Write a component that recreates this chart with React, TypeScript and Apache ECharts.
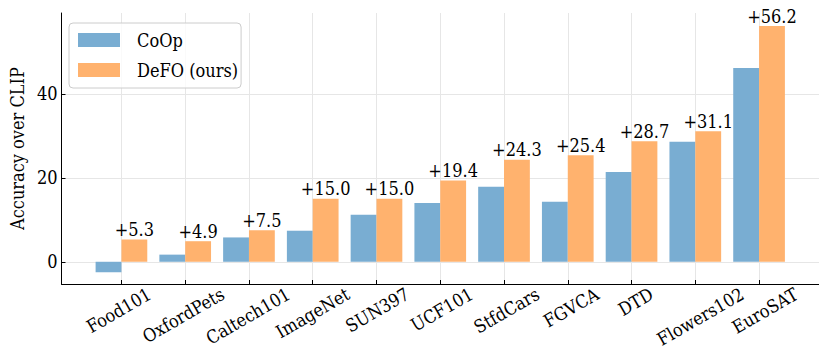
import React, { useEffect, useRef } from "react";
import * as echarts from "echarts";

const categories = ["Food101", "OxfordPets", "Caltech101", "ImageNet", "SUN397", "UCF101", "StfdCars", "FGVCA", "DTD", "Flowers102", "EuroSAT"];
const coop = [-2.5, 1.7, 5.8, 7.4, 11.2, 14.0, 17.9, 14.3, 21.4, 28.6, 46.2];
const defo = [5.3, 4.9, 7.5, 15.0, 15.0, 19.4, 24.3, 25.4, 28.7, 31.1, 56.2];
const yTicks = [0, 20, 40];
const seriesNames = ["CoOp", "DeFO (ours)"];

const FONT = "DejaVu Serif Condensed";
const FS = 18;
const BLUE = "#79add2";
const ORANGE = "#ffb26e";
const Y_MIN = -5.3;
const Y_MAX = 59.3;
const X_MIN = -0.94;
const X_MAX = 10.94;

export default function App() {
  const ref = useRef<HTMLDivElement>(null);
  useEffect(() => {
    if (!ref.current) return;
    const chart = echarts.init(ref.current, undefined, { renderer: "svg" });

    const canvas = document.createElement("canvas");
    const ctx = canvas.getContext("2d")!;
    ctx.font = `${FS}px "${FONT}"`;
    const rich: Record<string, any> = {};
    categories.forEach((c, i) => {
      const L = ctx.measureText(c).width;
      rich["c" + i] = {
        fontSize: FS,
        fontFamily: FONT,
        color: "#000",
        lineHeight: 20,
        padding: [0.433 * L, 0.25 * L, 0, 0],
      };
    });
    const idx = categories.map((_, i) => i);

    const gLeft = 58;
    const gWidth = 819 + 7 - gLeft;
    const band = gWidth / (X_MAX - X_MIN);
    const g2Left = gLeft + (-0.5 - X_MIN) * band;
    const g2Width = band * categories.length;

    chart.setOption({
      animation: false,
      textStyle: { fontFamily: FONT },
      grid: [
        { left: gLeft, width: gWidth, top: 13, bottom: 66, containLabel: false },
        { left: g2Left, width: g2Width, top: 13, bottom: 66, containLabel: false },
      ],
      legend: {
        orient: "vertical",
        left: 69,
        top: 23,
        padding: [7, 3, 8, 9],
        itemGap: 10,
        itemWidth: 42,
        itemHeight: 14,
        icon: "rect",
        borderColor: "#cccccc",
        borderWidth: 1,
        borderRadius: 4,
        backgroundColor: "rgba(255,255,255,0.8)",
        textStyle: { fontSize: FS, fontFamily: FONT, color: "#000", padding: [0, 0, 0, 12], lineHeight: 20 },
        data: seriesNames,
      },
      xAxis: [
        {
          type: "value",
          gridIndex: 0,
          min: X_MIN,
          max: X_MAX,
          axisLine: { show: true, onZero: false, lineStyle: { color: "#000", width: 1 } },
          axisTick: { show: true, inside: true, length: 4, customValues: idx, lineStyle: { color: "#000" } },
          splitLine: { show: true, lineStyle: { color: "#e6e6e6", width: 1 } },
          axisLabel: { show: false, customValues: idx },
        },
        {
          type: "category",
          gridIndex: 1,
          data: categories,
          boundaryGap: true,
          axisLine: { show: false },
          axisTick: { show: false },
          splitLine: { show: false },
          axisLabel: {
            interval: 0,
            rotate: 30,
            margin: 13,
            align: "center",
            verticalAlign: "middle",
            formatter: (v: string) => `{c${categories.indexOf(v)}|${v}}`,
            rich,
          },
        },
      ],
      yAxis: [
        {
          type: "value",
          gridIndex: 0,
          min: Y_MIN,
          max: Y_MAX,
          name: "Accuracy over CLIP",
          nameLocation: "middle",
          nameRotate: 90,
          nameGap: 31,
          nameTextStyle: { fontSize: FS, fontFamily: FONT, color: "#000" },
          axisLine: { show: true, onZero: false, lineStyle: { color: "#000", width: 1 } },
          axisTick: { show: true, inside: true, length: 4, customValues: yTicks, lineStyle: { color: "#000" } },
          splitLine: { show: true, lineStyle: { color: "#e6e6e6", width: 1 } },
          axisLabel: {
            customValues: yTicks,
            margin: 4,
            fontSize: FS,
            fontFamily: FONT,
            color: "#000",
          },
        },
        {
          type: "value",
          gridIndex: 1,
          min: Y_MIN,
          max: Y_MAX,
          show: false,
          splitLine: { show: false },
        },
      ],
      series: [
        {
          name: seriesNames[0],
          type: "bar",
          xAxisIndex: 0,
          yAxisIndex: 0,
          data: coop.map((v, i) => [i, v]),
          barWidth: 25.84,
          barGap: "0%",
          itemStyle: { color: BLUE },
        },
        {
          name: seriesNames[1],
          type: "bar",
          xAxisIndex: 0,
          yAxisIndex: 0,
          data: defo.map((v, i) => [i, v]),
          barWidth: 25.84,
          barGap: "0%",
          itemStyle: { color: ORANGE },
          label: {
            show: true,
            position: "top",
            distance: 1,
            fontSize: FS,
            fontFamily: FONT,
            color: "#000",
            formatter: (p: any) => "+" + defo[p.dataIndex].toFixed(1),
          },
        },
      ],
    });
    return () => chart.dispose();
  }, []);
  return (
    <div
      ref={ref}
      style={{ position: "fixed", left: 0, top: 0, width: 819, height: 350, background: "#fff" }}
    />
  );
}
